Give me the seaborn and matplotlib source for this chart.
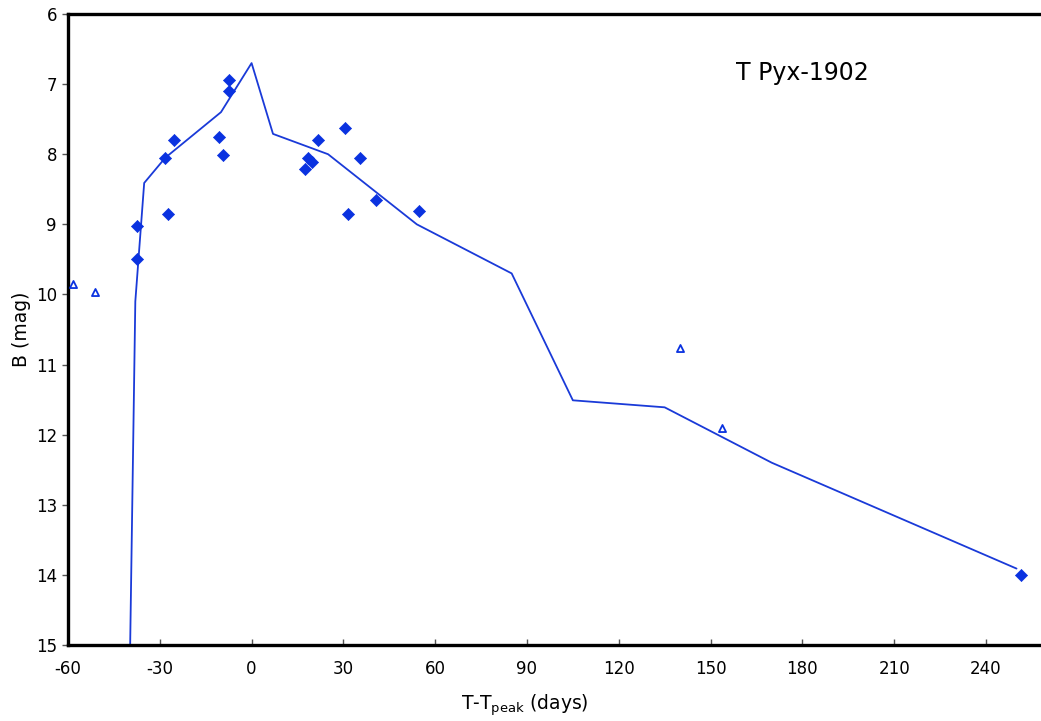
import matplotlib
matplotlib.use("Agg")
import matplotlib.pyplot as plt
import seaborn as sns
import pandas as pd

# Observed B magnitudes (filled diamonds)
obs_days = [-37.5, -37.4, -28.3, -25.4, -27.2, -10.5, -9.3, -7.4, -7.4,
            17.6, 18.6, 19.7, 21.7, 30.6, 31.4, 35.5, 40.7, 54.7, 251.5]
obs_mag = [9.03, 9.50, 8.06, 7.80, 8.85, 7.75, 8.01, 6.94, 7.10,
           8.21, 8.06, 8.11, 7.80, 7.63, 8.85, 8.06, 8.66, 8.81, 14.0]

# Other estimates (open triangles)
alt_days = [-58.3, -51.2, 139.9, 153.9]
alt_mag = [9.85, 9.97, 10.76, 11.90]

# Template light curve (line)
tmpl_days = [-39.7, -38.0, -35.1, -28.2, -10.0, 0.0, 7.0, 25.0, 54.0,
             85.0, 105.0, 135.0, 170.0, 250.0]
tmpl_mag = [15.05, 10.1, 8.41, 8.05, 7.40, 6.70, 7.71, 8.00, 9.00,
            9.70, 11.51, 11.61, 12.40, 13.91]

x_ticks = [-60, -30, 0, 30, 60, 90, 120, 150, 180, 210, 240]
y_ticks = [6, 7, 8, 9, 10, 11, 12, 13, 14, 15]

sns.set_theme(style="white")
plt.rcParams['font.family'] = ['DejaVu Sans']

blue = '#0a32e0'

fig = plt.figure(figsize=(10.41, 7.21), dpi=100)
ax = fig.add_axes([68 / 1041, 1 - 645 / 721, 1 - 68 / 1041, (645 - 14) / 721])

df_t = pd.DataFrame({'d': tmpl_days, 'm': tmpl_mag})
df_o = pd.DataFrame({'d': obs_days, 'm': obs_mag})
df_a = pd.DataFrame({'d': alt_days, 'm': alt_mag})

sns.lineplot(data=df_t, x='d', y='m', sort=False, estimator=None,
             color='#1a3ad8', linewidth=1.3, ax=ax)
sns.scatterplot(data=df_o, x='d', y='m', marker='D', s=38, color=blue,
                edgecolor=blue, linewidth=0.5, ax=ax, zorder=3)
sns.scatterplot(data=df_a, x='d', y='m', marker='^', s=26, facecolor='white',
                edgecolor=blue, linewidth=1.3, ax=ax, zorder=3)

ax.set_xlim(-60, 258)
ax.set_ylim(15, 6)
ax.set_xticks(x_ticks)
ax.set_yticks(y_ticks)
ax.set_xticklabels([str(t) for t in x_ticks])
ax.set_yticklabels([str(t) for t in y_ticks])

for s in ['left', 'bottom', 'top']:
    ax.spines[s].set_visible(True)
    ax.spines[s].set_color('black')
    ax.spines[s].set_linewidth(2.4)
ax.spines['right'].set_visible(False)

ax.tick_params(axis='y', direction='out', length=4, width=1, color='#555555',
               labelsize=12, pad=4, left=True, labelcolor='black')
ax.tick_params(axis='x', direction='in', length=4, width=1, color='#555555',
               labelsize=12, pad=11, bottom=True, labelcolor='black')

ax.set_xlabel(r'T-T$_{\mathregular{peak}}$ (days)', fontsize=13.5, color='black')
ax.xaxis.set_label_coords(0.47, -0.075)
ax.set_ylabel('B (mag)', fontsize=13.5, labelpad=3, color='black')

ax.text(0.687, 0.895, 'T Pyx-1902', transform=ax.transAxes, fontsize=17,
        ha='left', va='baseline', color='black')

fig.savefig('out.png', dpi=100)
